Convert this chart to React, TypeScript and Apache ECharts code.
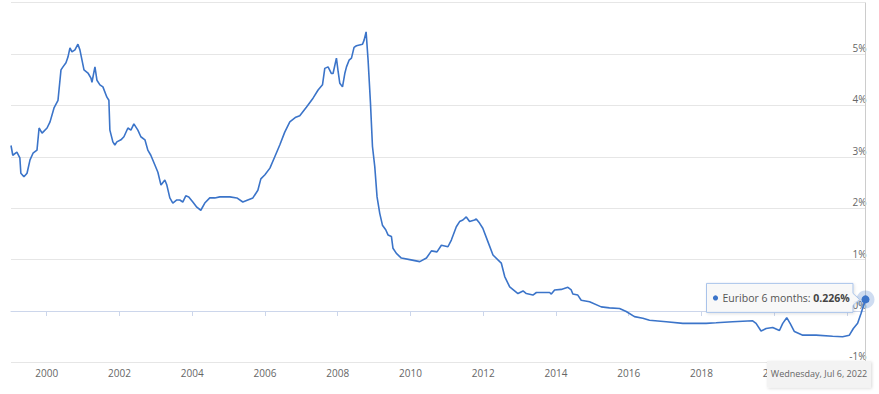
import { useEffect, useRef } from "react";
import * as echarts from "echarts";

const SERIES_NAME = "Euribor 6 months";

const dates: string[] = [
  "1999-01-07", "1999-01-25", "1999-03-07", "1999-04-06", "1999-04-16", "1999-05-17", "1999-06-17", "1999-07-17",
  "1999-08-16", "1999-09-25", "1999-10-16", "1999-11-15", "2000-01-04", "2000-02-03", "2000-03-14", "2000-04-23",
  "2000-05-23", "2000-06-12", "2000-07-12", "2000-08-01", "2000-08-21", "2000-09-10", "2000-10-10", "2000-11-09",
  "2000-11-29", "2001-01-09", "2001-02-18", "2001-03-20", "2001-03-30", "2001-04-29", "2001-05-19", "2001-06-18",
  "2001-07-18", "2001-08-27", "2001-09-16", "2001-09-26", "2001-10-26", "2001-11-15", "2001-12-05", "2002-01-15",
  "2002-02-14", "2002-03-26", "2002-04-25", "2002-05-25", "2002-07-04", "2002-08-03", "2002-09-13", "2002-10-12",
  "2002-11-11", "2002-12-22", "2003-01-21", "2003-02-21", "2003-04-01", "2003-04-21", "2003-05-21", "2003-06-20",
  "2003-07-30", "2003-08-29", "2003-09-28", "2003-10-28", "2003-11-27", "2004-01-07", "2004-02-16", "2004-03-27",
  "2004-05-06", "2004-06-25", "2004-08-14", "2004-10-04", "2005-01-13", "2005-03-24", "2005-05-23", "2005-07-12",
  "2005-09-01", "2005-10-21", "2005-11-20", "2005-12-31", "2006-02-19", "2006-04-09", "2006-05-29", "2006-07-18",
  "2006-09-07", "2006-11-06", "2006-12-16", "2007-02-22", "2007-04-28", "2007-06-18", "2007-08-01", "2007-08-24",
  "2007-09-26", "2007-10-30", "2007-11-15", "2007-12-19", "2008-01-05", "2008-01-22", "2008-02-18", "2008-03-12",
  "2008-03-29", "2008-04-24", "2008-05-18", "2008-06-13", "2008-07-07", "2008-09-06", "2008-09-22", "2008-10-12",
  "2008-11-01", "2008-11-25", "2008-12-15", "2009-01-07", "2009-01-30", "2009-02-26", "2009-03-25", "2009-04-27",
  "2009-05-20", "2009-06-23", "2009-07-09", "2009-08-12", "2009-10-01", "2009-12-24", "2010-04-04", "2010-06-10",
  "2010-07-30", "2010-09-24", "2010-11-07", "2011-01-12", "2011-02-15", "2011-04-06", "2011-05-09", "2011-06-11",
  "2011-07-15", "2011-08-17", "2011-10-06", "2011-10-23", "2011-11-25", "2011-12-28", "2012-02-17", "2012-04-08",
  "2012-06-15", "2012-07-01", "2012-08-04", "2012-09-23", "2012-12-15", "2013-02-04", "2013-03-09", "2013-05-14",
  "2013-06-18", "2013-10-29", "2013-11-15", "2013-12-18", "2014-02-23", "2014-04-30", "2014-06-03", "2014-06-19",
  "2014-08-08", "2014-09-11", "2014-12-04", "2015-03-31", "2015-06-22", "2015-10-01", "2015-12-07", "2016-02-28",
  "2016-05-22", "2016-07-28", "2017-01-12", "2017-06-28", "2018-02-17", "2018-05-28", "2018-11-10", "2019-05-30",
  "2019-07-03", "2019-08-22", "2019-10-12", "2019-12-17", "2020-02-23", "2020-03-27", "2020-05-06", "2020-06-09",
  "2020-07-22", "2020-10-14", "2021-02-25", "2021-08-10", "2021-11-18", "2022-01-25", "2022-03-06", "2022-04-18",
  "2022-05-22", "2022-07-06",
];

const values: number[] = [
  3.22, 3.03, 3.09, 2.98, 2.68, 2.61, 2.68, 2.94,
  3.07, 3.13, 3.56, 3.46, 3.56, 3.68, 3.95, 4.1,
  4.69, 4.75, 4.83, 4.94, 5.12, 5.04, 5.08, 5.19,
  5.08, 4.69, 4.63, 4.53, 4.45, 4.75, 4.49, 4.4,
  4.36, 4.16, 4.1, 3.52, 3.29, 3.23, 3.29, 3.33,
  3.39, 3.56, 3.52, 3.64, 3.52, 3.39, 3.33, 3.13,
  3.03, 2.84, 2.7, 2.45, 2.55, 2.45, 2.2, 2.1,
  2.16, 2.16, 2.12, 2.24, 2.22, 2.12, 2.02, 1.96,
  2.1, 2.2, 2.2, 2.22, 2.22, 2.2, 2.12, 2.16,
  2.2, 2.35, 2.57, 2.65, 2.78, 3.0, 3.23, 3.48,
  3.68, 3.77, 3.8, 3.97, 4.14, 4.3, 4.4, 4.72,
  4.75, 4.62, 4.62, 4.92, 4.66, 4.43, 4.36, 4.62,
  4.75, 4.88, 4.92, 5.13, 5.16, 5.19, 5.27, 5.43,
  4.88, 4.04, 3.2, 2.81, 2.22, 1.9, 1.67, 1.58,
  1.48, 1.45, 1.22, 1.12, 1.03, 1.0, 0.96, 1.03,
  1.17, 1.15, 1.28, 1.25, 1.38, 1.64, 1.74, 1.77,
  1.83, 1.74, 1.77, 1.79, 1.71, 1.61, 1.35, 1.09,
  0.96, 0.93, 0.67, 0.47, 0.34, 0.39, 0.34, 0.31,
  0.36, 0.36, 0.33, 0.41, 0.42, 0.46, 0.41, 0.33,
  0.31, 0.21, 0.18, 0.08, 0.06, 0.05, -0.01, -0.11,
  -0.14, -0.18, -0.21, -0.24, -0.24, -0.23, -0.21, -0.19,
  -0.24, -0.39, -0.34, -0.32, -0.38, -0.24, -0.13, -0.24,
  -0.4, -0.47, -0.47, -0.49, -0.5, -0.47, -0.34, -0.24,
  -0.05, 0.226,
];

const tickYears: number[] = [2000, 2002, 2004, 2006, 2008, 2010, 2012, 2014, 2016, 2018, 2020, 2022];
const labelYears: number[] = [2000, 2002, 2004, 2006, 2008, 2010, 2012, 2014, 2016, 2018, 2020];
const yMin = -1;
const yMax = 6;
const yStep = 1;

const weekdayNames = ["Sunday", "Monday", "Tuesday", "Wednesday", "Thursday", "Friday", "Saturday"];
const monthNames = ["Jan", "Feb", "Mar", "Apr", "May", "Jun", "Jul", "Aug", "Sep", "Oct", "Nov", "Dec"];

const LINE_COLOR = "#3b74c9";
const FONT = "'Open Sans', 'Noto Sans', sans-serif";

function toTime(d: string): number {
  const [y, m, day] = d.split("-").map(Number);
  return new Date(y, m - 1, day).getTime();
}

export default function App() {
  const ref = useRef<HTMLDivElement>(null);

  useEffect(() => {
    if (!ref.current) return;
    const chart = echarts.init(ref.current, null, { renderer: "svg" });
    const data = dates.map((d, i) => [toTime(d), values[i]]);
    const firstT = toTime(dates[0]);
    const lastT = toTime(dates[dates.length - 1]);
    const lastV = values[values.length - 1];
    const tickTimes = tickYears.map((y) => new Date(y, 0, 1).getTime());
    const labelTimes = labelYears.map((y) => new Date(y, 0, 1).getTime());

    chart.setOption({
      animation: false,
      textStyle: { fontFamily: FONT },
      grid: { left: 11, right: 13.5, top: 2.6, bottom: 31.6, containLabel: false },
      xAxis: {
        type: "value",
        min: firstT,
        max: lastT,
        axisLine: { show: true, lineStyle: { color: "#ccd6eb", width: 1 } },
        axisTick: { show: true, length: 5, customValues: tickTimes, lineStyle: { color: "#ccd6eb" } },
        axisLabel: {
          customValues: labelTimes,
          formatter: (v: number) => String(new Date(v).getFullYear()),
          color: "#666666",
          fontSize: 10,
          fontFamily: FONT,
          margin: 6,
          showMinLabel: true,
          showMaxLabel: true,
        },
        splitLine: { show: false },
      },
      yAxis: {
        type: "value",
        position: "right",
        min: yMin,
        max: yMax,
        interval: yStep,
        axisLine: { show: false },
        axisTick: { show: false },
        splitLine: { show: true, lineStyle: { color: "#e6e6e6", width: 1 } },
        axisLabel: {
          inside: true,
          margin: -1,
          verticalAlign: "bottom",
          padding: [0, 0, 1, 0],
          color: "#666666",
          fontSize: 10,
          fontFamily: FONT,
          formatter: (v: number) => (v === yMax ? "" : `${v}%`),
        },
      },
      series: [
        {
          name: SERIES_NAME,
          type: "line",
          data,
          showSymbol: false,
          symbol: "none",
          lineStyle: { color: LINE_COLOR, width: 1.6 },
          itemStyle: { color: LINE_COLOR },
          markLine: {
            silent: true,
            symbol: ["none", "none"],
            label: { show: false },
            lineStyle: { color: "#cccccc", type: "solid", width: 1 },
            data: [{ xAxis: lastT }],
          },
          markPoint: {
            silent: true,
            label: { show: false },
            data: [
              { coord: [lastT, lastV], symbol: "circle", symbolSize: 18, itemStyle: { color: "rgba(59,116,201,0.25)" } },
              { coord: [lastT, lastV], symbol: "circle", symbolSize: 8, itemStyle: { color: LINE_COLOR } },
            ],
          },
        },
      ],
    });

    const [px, py] = chart.convertToPixel({ gridIndex: 0 }, [lastT, lastV]) as number[];
    const bottomY = chart.convertToPixel({ yAxisIndex: 0 }, yMin) as number;
    const L = px - 159;
    const R = px - 12.5;
    const T = py - 16;
    const B = py + 13;
    const d = new Date(lastT);
    const dateText = `${weekdayNames[d.getDay()]}, ${monthNames[d.getMonth()]} ${d.getDate()}, ${d.getFullYear()}`;

    chart.setOption({
      graphic: [
        {
          type: "polygon",
          z: 100,
          silent: true,
          shape: {
            points: [
              [L, T],
              [R, T],
              [R, py - 6],
              [px - 6, py],
              [R, py + 6],
              [R, B],
              [L, B],
            ],
          },
          style: {
            fill: "rgba(249,249,249,0.92)",
            stroke: "#a9c3ea",
            lineWidth: 1,
            shadowBlur: 3,
            shadowColor: "rgba(0,0,0,0.12)",
            shadowOffsetX: 1,
            shadowOffsetY: 1,
          },
        },
        {
          type: "circle",
          z: 101,
          silent: true,
          shape: { cx: L + 9, cy: py - 1.5, r: 2.6 },
          style: { fill: LINE_COLOR },
        },
        {
          type: "text",
          z: 101,
          silent: true,
          x: L + 16,
          y: py - 1.5,
          style: {
            text: `{n|${SERIES_NAME}: }{b|${lastV.toFixed(3)}%}`,
            verticalAlign: "middle",
            align: "left",
            rich: {
              n: { fontSize: 10.5, fontFamily: FONT, fill: "#555555", color: "#555555" },
              b: { fontSize: 10.5, fontFamily: FONT, fontWeight: "bold", fill: "#444444", color: "#444444" },
            },
          },
        },
        {
          type: "rect",
          z: 100,
          silent: true,
          shape: { x: px - 98.5, y: bottomY - 1.5, width: 104, height: 26.5, r: 0 },
          style: {
            fill: "#f3f3f3",
            shadowBlur: 3,
            shadowColor: "rgba(0,0,0,0.15)",
            shadowOffsetX: 1,
            shadowOffsetY: 1,
          },
        },
        {
          type: "text",
          z: 101,
          silent: true,
          x: px - 46.5,
          y: bottomY + 11.5,
          style: {
            text: dateText,
            align: "center",
            verticalAlign: "middle",
            fontSize: 9,
            fontFamily: FONT,
            fill: "#666666",
          },
        },
      ],
    });

    return () => chart.dispose();
  }, []);

  return (
    <div
      ref={ref}
      style={{ position: "absolute", left: 0, top: 0, width: 879, height: 394, background: "#ffffff" }}
    />
  );
}
